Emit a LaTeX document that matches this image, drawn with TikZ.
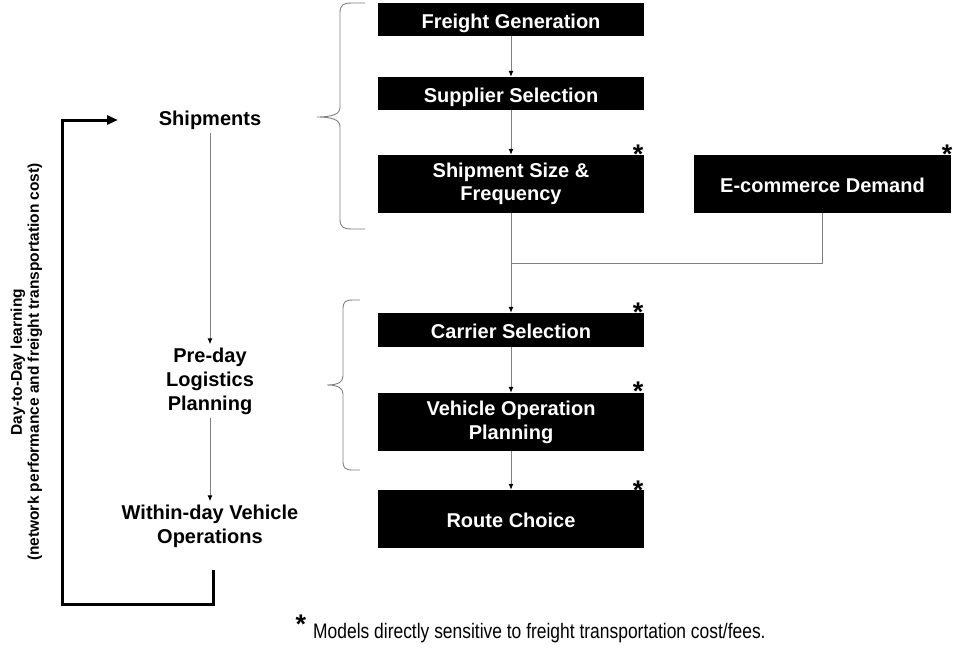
\documentclass[tikz,border=0pt]{standalone}
\usepackage{fontspec}
\usepackage{graphicx}
\setmainfont{Liberation Sans}
\usetikzlibrary{arrows.meta}
\begin{document}
\begin{tikzpicture}[x=1pt,y=-1pt,
  struts/.style={execute at begin node={\rule{0pt}{21.5pt}}, execute at end node={\rule[-4.5pt]{0pt}{4.5pt}}},
  box/.style={fill=black, text=white, font=\bfseries\fontsize{20}{24}\selectfont, align=center, minimum width=266pt, inner sep=0pt, struts},
  lbl/.style={font=\bfseries\fontsize{20}{24}\selectfont, align=center, inner sep=3pt, struts},
  conn/.style={draw=gray, line width=1pt, -{Latex[black,length=6pt,width=5pt]}},
  plain/.style={draw=gray, line width=1pt},
  star/.style={font=\bfseries\fontsize{27}{27}\selectfont, anchor=base, inner sep=0pt},
  bracestyle/.style={draw=gray, line width=0.9pt},
  feedback/.style={draw=black, line width=3pt, line join=miter, -{Triangle[length=11pt,width=9pt]}}]
\useasboundingbox (0,0) rectangle (953,648);

% boxes
\node[box, minimum height=33pt] (fg) at (511,19.5) {Freight Generation};
\node[box, minimum height=33pt] (ss) at (511,93.5) {Supplier Selection};
\node[box, minimum height=58pt] (sf) at (511,184) {Shipment Size \&\\Frequency};
\node[box, minimum width=257pt, minimum height=58pt] (ec) at (822.5,184) {E-commerce Demand};
\node[box, minimum height=34pt] (cs) at (511,330) {Carrier Selection};
\node[box, minimum height=58pt] (vo) at (511,422) {Vehicle Operation\\Planning};
\node[box, minimum height=58pt] (rc) at (511,519) {Route Choice};

% connectors right column
\coordinate (jn) at (511,263);
\draw[conn] (fg) -- (ss);
\draw[conn] (ss) -- (sf);
\draw[conn] (sf) -- (cs);
\draw[plain] (ec.south) |- (jn);
\draw[conn] (cs) -- (vo);
\draw[conn] (vo) -- (rc);

% stars
\node[star] (s1) at (638,163) {*};
\node[star] (s2) at (947,163) {*};
\node[star] (s3) at (638,321) {*};
\node[star] (s4) at (638,400) {*};
\node[star] (s5) at (638,499) {*};

% braces
\draw[bracestyle] (365,3) -- (352,3) .. controls (343,3) and (340,5) .. (340,13)
  -- (340,107) .. controls (340,114) and (333,117) .. (317,117)
  .. controls (333,117) and (340,120) .. (340,127)
  -- (340,219) .. controls (340,227) and (343,229) .. (352,229) -- (365,229);
\draw[bracestyle] (360,300) -- (353,300) .. controls (345,300) and (343,302) .. (343,309)
  -- (343,376) .. controls (343,382) and (338,385) .. (327,385)
  .. controls (338,385) and (343,388) .. (343,394)
  -- (343,461) .. controls (343,468) and (345,470) .. (353,470) -- (360,470);

% left column
\node[lbl] (ship) at (210,117) {Shipments};
\node[lbl] (pre) at (210,381) {Pre-day\\Logistics\\Planning};
\node[lbl] (wd) at (210,526) {Within-day Vehicle\\Operations};
\draw[conn] (ship) -- (pre);
\draw[conn] (pre) -- (wd);

% feedback loop
\coordinate (fbs) at (213,570);
\coordinate (fbe) at (118,120);
\draw[feedback] (fbs) -- (213,604) -- (62,604) -- (62,120) -- (fbe);
\node[rotate=90, font=\bfseries\fontsize{15.5}{17}\selectfont, align=center, inner sep=0pt] (dtd) at (26.5,362)
  {Day-to-Day learning\\(network performance and freight transportation cost)};

% footnote
\node[star] (s6) at (301,633) {*};
\node[anchor=base west, inner sep=0pt, font=\fontsize{21}{24}\selectfont] (note) at (313,638)
  {\scalebox{0.83}[1]{Models directly sensitive to freight transportation cost/fees.}};
\end{tikzpicture}
\end{document}
